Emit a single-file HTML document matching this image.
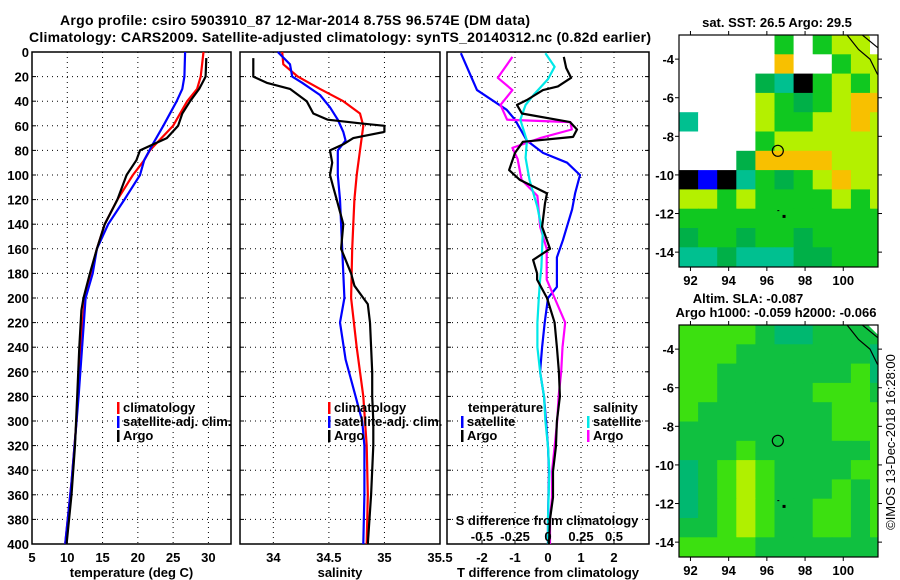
<!DOCTYPE html>
<html><head><meta charset="utf-8"><style>
body{margin:0;background:#fff}
svg{display:block;font-family:"Liberation Sans",sans-serif;font-weight:bold}
</style></head><body>
<svg id="s" width="900" height="580" viewBox="0 0 900 580" xmlns="http://www.w3.org/2000/svg">
<text x="295" y="25" text-anchor="middle" font-size="14" textLength="470">Argo profile: csiro 5903910_87 12-Mar-2014 8.75S 96.574E (DM data)</text>
<text x="340" y="42" text-anchor="middle" font-size="14" textLength="622">Climatology: CARS2009. Satellite-adjusted climatology: synTS_20140312.nc (0.82d earlier)</text>
<g id="g"></g>
</svg>
<script>
// ---------- data ----------
const depthTicks=[0,20,40,60,80,100,120,140,160,180,200,220,240,260,280,300,320,340,360,380,400];
const tTicks=[5,10,15,20,25,30];
const sTicks=[34,34.5,35,35.5];
const dTTicks=[-2,-1,0,1,2];
const dSTicks=[-0.5,-0.25,0,0.25,0.5];
const dSLabels=["-0.5","-0.25","0","0.25","0.5"];

const tArgoD=[5,20,30,40,50,60,70,80,88,100,120,140,160,180,200,210,240,280,320,360,400];
const tArgoV=[29.7,29.6,28.7,27.4,26.3,25.7,24.1,20.3,19.8,18.4,17.1,15.3,14.2,13.2,12.3,12.0,11.7,11.4,11.1,10.6,9.9];
const tClimD=[0,20,30,40,60,80,88,100,120,140,160,180,200,250,300,350,400];
const tClimV=[29.3,28.9,28.4,27.0,25.0,21.7,20.9,19.3,17.1,15.3,14.2,13.3,12.5,11.7,11.3,10.6,9.7];
const tSatD=[0,20,30,40,60,75,88,100,120,140,160,180,200,280,350,400];
const tSatV=[26.7,26.6,26.3,25.5,23.6,22.1,20.9,20.3,18.1,15.8,14.2,13.6,12.6,11.6,10.6,9.7];

const sArgoD=[5,20,25,30,40,50,55,58,60,65,70,75,80,90,100,110,120,140,160,180,190,200,205,220,240,260,280,300,320,360,400];
const sArgoV=[33.82,33.82,33.94,34.15,34.30,34.36,34.49,34.78,35.0,35.0,34.72,34.63,34.51,34.53,34.51,34.54,34.57,34.63,34.61,34.70,34.73,34.81,34.85,34.87,34.88,34.89,34.89,34.90,34.90,34.88,34.85];
const sClimD=[0,10,20,30,40,50,60,80,100,120,160,200,240,280,320,360,400];
const sClimV=[34.08,34.09,34.22,34.42,34.63,34.78,34.81,34.78,34.75,34.73,34.71,34.70,34.75,34.81,34.84,34.85,34.84];
const sSatD=[0,10,20,25,35,45,55,65,72,80,100,120,160,200,220,250,280,300,320,360,400];
const sSatV=[34.04,34.15,34.17,34.26,34.42,34.51,34.58,34.63,34.65,34.58,34.58,34.60,34.62,34.64,34.60,34.65,34.74,34.80,34.82,34.82,34.81];

const dTSatD=[1,31,47,55,72,82,90,100,115,128,153,167,191,200,220,240,260,280,300,321,341,380,400];
const dTSatV=[-2.64,-2.15,-1.25,-1.0,-0.64,-0.15,0.58,0.97,0.82,0.73,0.45,0.27,0.27,0,-0.1,-0.18,-0.24,-0.12,-0.06,0,0.03,0,0];
const dTArgoD=[4,13,21,28,31,39,43,50,57,63,69,73,82,96,104,115,123,142,160,169,180,185,200,220,240,260,280,300,321,341,362,380,400];
const dTArgoV=[0.48,0.55,0.7,0.3,-0.15,-0.64,-0.94,-0.79,0.67,0.88,0.76,-0.76,-1.0,-1.18,-0.85,-0.03,-0.09,-0.18,0.06,-0.45,-0.33,-0.33,-0.03,0.2,0.27,0.33,0.36,0.27,0.24,0.15,0.15,0.06,0.03];
const dSArgoD=[4,21,31,43,55,57,63,70,78,87,104,117,142,160,175,185,200,220,240,260,280,300,321,341,362,380,400];
const dSArgoV=[-0.27,-0.38,-0.27,-0.36,-0.31,0.17,0.18,-0.06,-0.27,-0.23,-0.2,-0.08,-0.06,-0.01,-0.01,-0.01,0.05,0.13,0.11,0.10,0.08,0.07,0.05,0.03,0.03,0.015,0.015];
const dSSatD=[1,12,22,35,43,55,72,86,104,126,148,175,185,200,220,240,260,280,300,321,341,380,400];
const dSSatV=[-0.02,0.05,0,-0.11,-0.17,-0.21,-0.16,-0.17,-0.14,-0.08,-0.04,-0.05,-0.06,-0.07,-0.08,-0.08,-0.06,-0.03,-0.02,0,0.01,0,0];

// maps: 1-degree cells, rows from lat -2.75 downward, cols from lon 91.4 eastward
const sstRows=["WWWWWGWGYYW","WWWWWOWWGYY","WWWWDCKGYGY","WWWWYGDGYOO","CWWWYGGYYOY","WWWWGYYYYYY","WWWDOOOOYYY","KBKCGDGYOYY","YYGYGGGGYGY","GGGGGGGGGGG","DGGDGGDGGGG","CCDCCCDDGGG"];
const slaRows=["LLLLgTTgggg","LLLgggggggT","LLgggggggLT","LLgggggLLLg","LgggggggLLL","ggggggggLLL","gggLggggggL","TgLYLggggLL","TgLYLgggLgL","TgLYLggLLgL","ggLYLggLLgL","LLLLggggggg"];
const sstColors={W:"#ffffff",G:"#10c820",D:"#00b048",C:"#00c090",Y:"#b4f000",O:"#f8c000",K:"#000000",B:"#0000ff"};
const slaColors={g:"#10c040",L:"#3ce010",Y:"#b0f000",T:"#00b870",W:"#ffffff"};
const mapLonTicks=[92,94,96,98,100];
const mapLatTicks=[-4,-6,-8,-10,-12,-14];
const argoLon=96.574, argoLat=-8.75;

// ---------- helpers ----------
const NS="http://www.w3.org/2000/svg";
const G=document.getElementById('g');
function mk(tag,attrs,parent){const e=document.createElementNS(NS,tag);for(const k in attrs)e.setAttribute(k,attrs[k]);(parent||G).appendChild(e);return e;}
function txt(x,y,s,size,anchor,parent){const t=mk('text',{x:x,y:y,'font-size':size,'text-anchor':anchor||'middle'},parent);t.textContent=s;return t;}
const Y0=52,Y1=544;
const yD=d=>Y0+d*(Y1-Y0)/400;

const panels=[
 {x0:32,x1:231,min:5,max:33.2,ticks:tTicks,labels:tTicks.map(String),title:"temperature (deg C)",name:"temperature-panel"},
 {x0:240,x1:440,min:33.7,max:35.5,ticks:sTicks,labels:["34","34.5","35","35.5"],title:"salinity",name:"salinity-panel"},
 {x0:447,x1:649,min:-3.06,max:3.06,ticks:dTTicks,labels:dTTicks.map(String),title:"T difference from climatology",name:"difference-panel"}
];
panels.forEach((p,i)=>{
  const g=mk('g',{});
  
  
  p.g=g;
  p.xs=v=>p.x0+(v-p.min)*(p.x1-p.x0)/(p.max-p.min);
  depthTicks.forEach(d=>{
    if(d>0&&d<400){const l=mk('line',{x1:p.x0,x2:p.x1,y1:yD(d),y2:yD(d),stroke:'#000','stroke-width':1,'stroke-dasharray':'1,4'},g);
      }
    mk('line',{x1:p.x0,x2:p.x0+4,y1:yD(d),y2:yD(d),stroke:'#000'},g);
    mk('line',{x1:p.x1-4,x2:p.x1,y1:yD(d),y2:yD(d),stroke:'#000'},g);
    if(i===0){const t=txt(29,yD(d)+5,String(d),13,'end',g);}
  });
  p.ticks.forEach((v,k)=>{
    const x=p.xs(v);
    if(x>p.x0+1&&x<p.x1-1){const l=mk('line',{x1:x,x2:x,y1:Y0,y2:Y1,stroke:'#000','stroke-width':1,'stroke-dasharray':'1,4'},g);
      }
    const t=txt(x,562,p.labels[k],13,'middle',g);
    
  });
  const r=mk('rect',{x:p.x0,y:Y0,width:p.x1-p.x0,height:Y1-Y0,fill:'none',stroke:'#000','stroke-width':1.5},g);
  
  const at=txt((p.x0+p.x1)/2,577,p.title,13,'middle',g);
  
});
function line(p,xs,D,V,color,name){
  const pts=D.map((d,k)=>xs(V[k]).toFixed(1)+','+yD(d).toFixed(1)).join(' ');
  const l=mk('polyline',{points:pts,fill:'none',stroke:color,'stroke-width':2.2,'stroke-linejoin':'round'},p.g);
  
  
}
const P1=panels[0],P2=panels[1],P3=panels[2];
line(P1,P1.xs,tClimD,tClimV,'#ff0000','temperature-climatology-line');
line(P1,P1.xs,tSatD,tSatV,'#0000ff','temperature-satellite-line');
line(P1,P1.xs,tArgoD,tArgoV,'#000000','temperature-argo-line');
line(P2,P2.xs,sClimD,sClimV,'#ff0000','salinity-climatology-line');
line(P2,P2.xs,sSatD,sSatV,'#0000ff','salinity-satellite-line');
line(P2,P2.xs,sArgoD,sArgoV,'#000000','salinity-argo-line');
const xsS=v=>548+v*132;
line(P3,P3.xs,dTSatD,dTSatV,'#0000ff','t-diff-satellite-line');
line(P3,xsS,dSArgoD,dSArgoV,'#ff00ff','s-diff-argo-line');
line(P3,xsS,dSSatD,dSSatV,'#00e8e8','s-diff-satellite-line');
line(P3,P3.xs,dTArgoD,dTArgoV,'#000000','t-diff-argo-line');
// S difference secondary axis
const sl=txt(547,525,"S difference from climatology",13,'middle',P3.g);

dSTicks.forEach((v,k)=>{
  const t=txt(xsS(v),541,dSLabels[k],13,'middle',P3.g);
  
  mk('line',{x1:xsS(v),x2:xsS(v),y1:Y1-4,y2:Y1,stroke:'#000'},P3.g);
});
// legends
function legend(parent,x,y,color,label){
  const g=mk('g',{},parent);
  
  
  mk('rect',{x:x,y:y-10,width:2.5,height:12,fill:color},g);
  txt(x+6,y,label,13,'start',g);
}
legend(P1.g,117,412,'#ff0000','climatology');
legend(P1.g,117,426,'#0000ff','satellite-adj. clim.');
legend(P1.g,117,440,'#000000','Argo');
legend(P2.g,328,412,'#ff0000','climatology');
legend(P2.g,328,426,'#0000ff','satellite-adj. clim.');
legend(P2.g,328,440,'#000000','Argo');
const lt1=txt(468,412,'temperature',13,'start',P3.g);

const lt2=txt(593,412,'salinity',13,'start',P3.g);

legend(P3.g,461,426,'#0000ff','satellite');
legend(P3.g,461,440,'#000000','Argo');
legend(P3.g,587,426,'#00e8e8','satellite');
legend(P3.g,587,440,'#ff00ff','Argo');

// ---------- maps ----------
const MX0=679,MX1=878,LON0=91.4,PXLON=19.1,LAT0=-2.75,PXLAT=19.3;
function drawMap(top,rows,colors,name,titleLines){
  const g=mk('g',{});
  
  
  const H=232;
  const lx=lon=>MX0+(lon-LON0)*PXLON;
  const ly=lat=>top+(LAT0-lat)*PXLAT;
  const cp=mk('clipPath',{id:name+'-clip'},g);
  mk('rect',{x:MX0,y:top,width:MX1-MX0,height:H},cp);
  const cells=mk('g',{'clip-path':'url(#'+name+'-clip)'},g);
  rows.forEach((row,r)=>{
    for(let c=0;c<row.length;c++){
      const rc=mk('rect',{x:lx(LON0+c).toFixed(1),y:ly(LAT0-r).toFixed(1),width:PXLON+0.6,height:PXLAT+0.6,fill:colors[row[c]]},cells);
      
      
    }
  });
  // coastline hint
  mk('polyline',{points:`${lx(100.2)},${top} ${lx(100.8)},${ly(-3.5)} ${lx(101.4)},${ly(-4)} ${lx(101.8)},${ly(-4.8)}`,fill:'none',stroke:'#000','stroke-width':1.2},cells);
  mk('polyline',{points:`${lx(101)},${top} ${lx(101.8)},${ly(-3.4)}`,fill:'none',stroke:'#000','stroke-width':1.2},cells);
  mk('polygon',{points:`${lx(101.3)},${top} ${lx(101.86)},${top} ${lx(101.86)},${ly(-3.3)}`,fill:'#fff'},cells);
  const c=mk('circle',{cx:lx(argoLon),cy:ly(argoLat),r:5.5,fill:'none',stroke:'#000','stroke-width':1.2},g);
  
  mk('rect',{x:lx(96.9)-1.5,y:ly(-12.15)-1.5,width:3,height:3,fill:'#000'},g);
  mk('rect',{x:lx(96.6)-1,y:ly(-11.85)-0.5,width:2,height:1,fill:'#000'},g);
  mk('rect',{x:MX0,y:top,width:MX1-MX0,height:H,fill:'none',stroke:'#000','stroke-width':1.2},g);
  mapLonTicks.forEach(v=>{
    mk('line',{x1:lx(v),x2:lx(v),y1:top-4,y2:top,stroke:'#000'},g);
    mk('line',{x1:lx(v),x2:lx(v),y1:top+H,y2:top+H+4,stroke:'#000'},g);
    const t=txt(lx(v),top+H+18,String(v),13,'middle',g);
    
  });
  mapLatTicks.forEach(v=>{
    mk('line',{x1:MX0-4,x2:MX0,y1:ly(v),y2:ly(v),stroke:'#000'},g);
    mk('line',{x1:MX1,x2:MX1+4,y1:ly(v),y2:ly(v),stroke:'#000'},g);
    const t=txt(MX0-5,ly(v)+5,String(v),13,'end',g);
    
  });
  titleLines.forEach(tl=>{
    const t=txt(tl[0],tl[1],tl[2],13,'middle',g);
    
  });
}
drawMap(35,sstRows,sstColors,'sst-map',[[777,27,'sat. SST: 26.5 Argo: 29.5']]);
drawMap(325,slaRows,slaColors,'sla-map',[[748,303,'Altim. SLA: -0.087'],[776,317,'Argo h1000: -0.059 h2000: -0.066']]);
const cr=txt(0,0,'©IMOS 13-Dec-2018 16:28:00',13,'middle');
cr.setAttribute('transform','translate(895,442) rotate(-90)');
cr.setAttribute('font-weight','normal');


</script>
</body></html>
